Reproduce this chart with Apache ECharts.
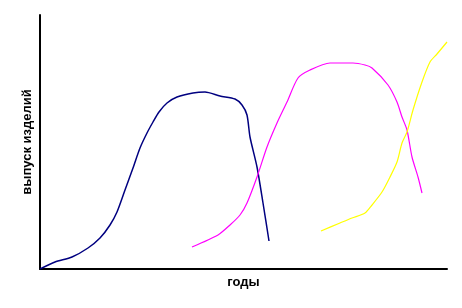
<!DOCTYPE html>
<html><head><meta charset="utf-8">
<script src="https://cdn.jsdelivr.net/npm/echarts@6/dist/echarts.min.js"></script>
<style>html,body{margin:0;padding:0;background:#fff}#c{width:462px;height:308px}</style>
</head><body><div id="c"></div>
<script>
// values in arbitrary units (years on x, output on y)
const xAxisName = 'годы';
const yAxisName = 'выпуск изделий';
const productA = [[0,0],[15,7],[32,12],[48,21],[60,31],[70,44],[77,57],[85,79],[93,101],[100,121],[107,136],[113,147],[119,157],[127,166],[137,172],[153,176],[165,177],[180,173],[195,170],[202,164],[207,154],[210,132],[217,102],[223,66],[229,28]];
const productB = [[152,22],[178,34],[190,44],[200,54],[207,66],[217,92],[227,122],[237,146],[247,167],[258,191],[270,199],[290,206],[313,206],[325,204],[332,201],[348,184],[357,167],[362,152],[367,139],[372,112],[378,92],[382,76]];
const productC = [[281,38],[300,46],[312,51],[325,56],[332,64],[342,77],[350,92],[357,107],[362,126],[367,137],[373,159],[382,187],[390,207],[397,215],[407,227]];
const xMax = 407, yMax = 254;

const chart = echarts.init(document.getElementById('c'));
const axisCommon = {
  axisLine:{show:true,onZero:false,lineStyle:{color:'#000',width:2}},
  axisTick:{show:false}, axisLabel:{show:false}, splitLine:{show:false},
  nameLocation:'middle',
  nameTextStyle:{fontFamily:'Liberation Sans, Arial, sans-serif',fontWeight:'bold',fontSize:13,color:'#000'}
};
function ser(d,color,w){return {type:'line',data:d,showSymbol:false,smooth:0.25,lineStyle:{color:color,width:w},itemStyle:{color:color},animation:false};}
chart.setOption({
  animation:false,
  grid:{left:40,right:15,top:15,bottom:39},
  xAxis:Object.assign({type:'value',min:0,max:xMax,name:xAxisName,nameGap:7},axisCommon),
  yAxis:Object.assign({type:'value',min:0,max:yMax,name:yAxisName,nameGap:6},axisCommon),
  series:[ser(productA,'#000080',1.5),ser(productB,'#FF00FF',1.2),ser(productC,'#FFFF00',1.2)]
});
</script></body></html>
